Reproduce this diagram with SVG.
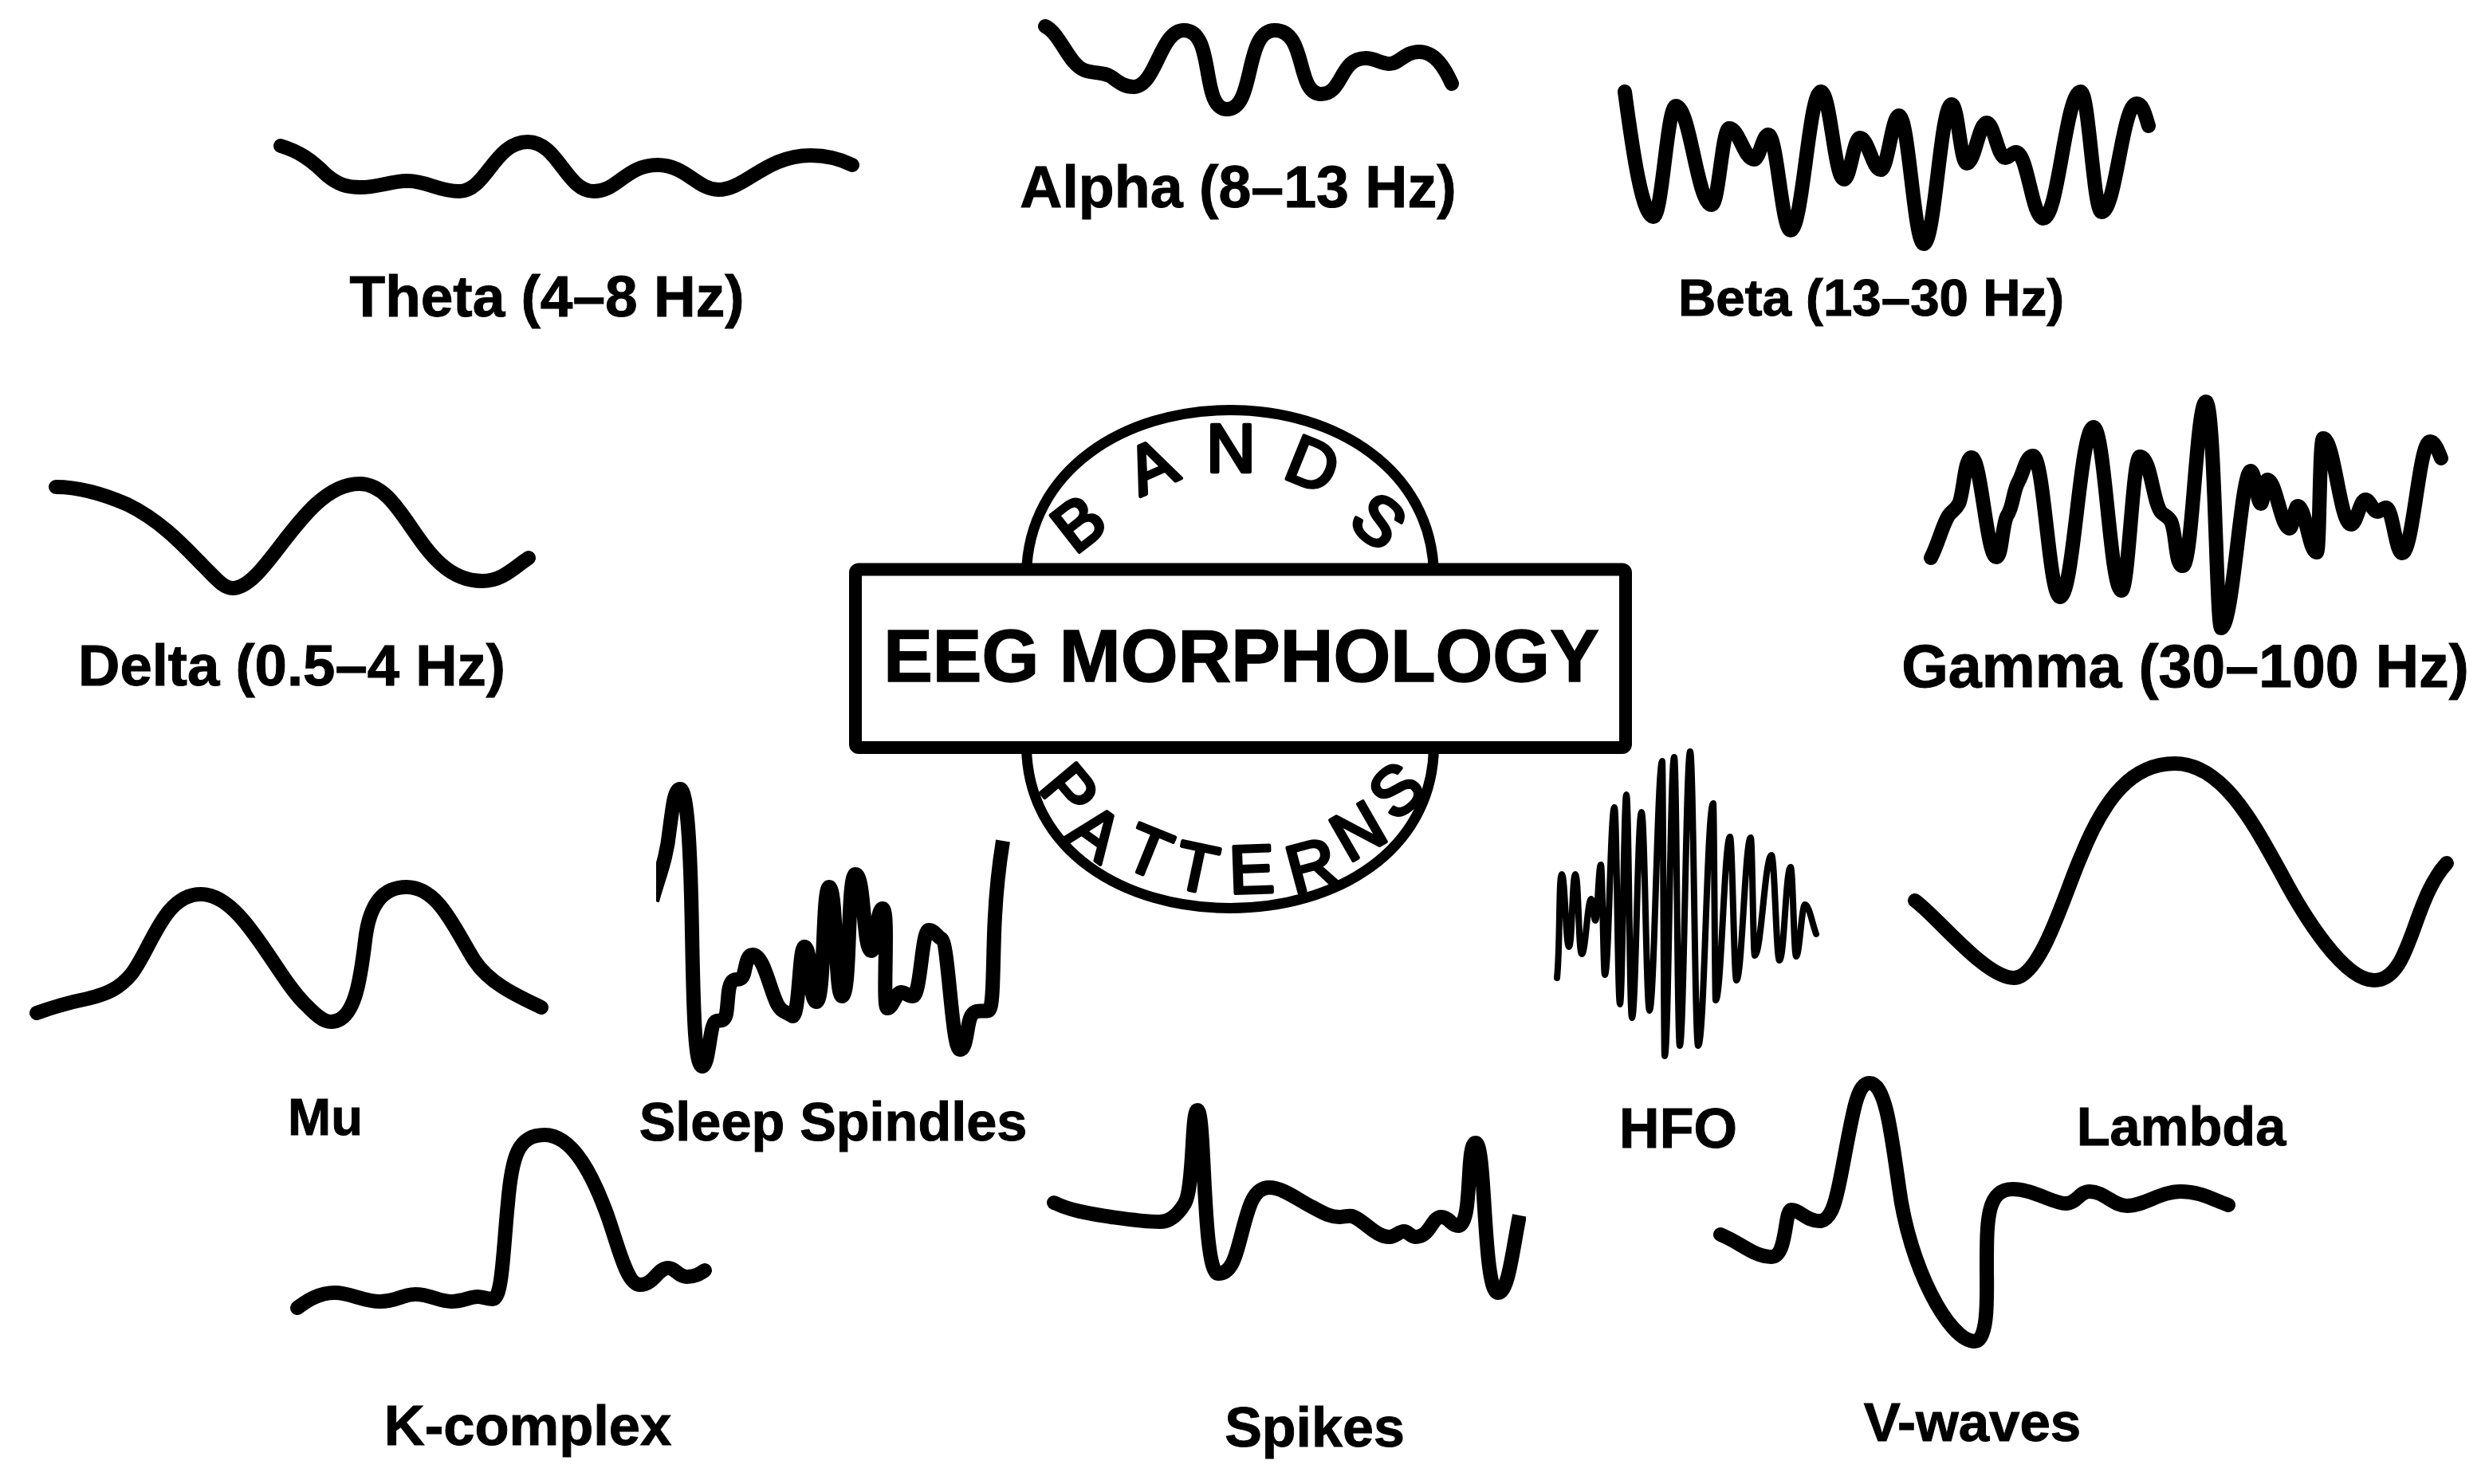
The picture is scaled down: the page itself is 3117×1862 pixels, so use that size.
<svg xmlns="http://www.w3.org/2000/svg" width="3117" height="1862" viewBox="0 0 3117 1862">
<style>
.w{fill:none;stroke:#000;stroke-width:18;stroke-linecap:round;stroke-linejoin:round}
.l{font-family:"Liberation Sans",Arial,sans-serif;font-weight:700;fill:#000;text-anchor:middle;stroke:#000;stroke-width:1}
.c{font-family:"Liberation Sans",Arial,sans-serif;font-size:85px;fill:#000;text-anchor:middle;stroke:#000;stroke-width:4.5;stroke-linejoin:round}
.o{fill:none;stroke:#000;stroke-width:13}
</style>
<defs>
<clipPath id="clipL"><rect x="823" y="950" width="500" height="420"/></clipPath>
<clipPath id="clipR"><rect x="1300" y="1370" width="614" height="300"/></clipPath>
</defs>
<rect width="3117" height="1862" fill="#fff"/>

<g id="theta">
<path class="w" d="M352 183C375 190 390 200 410 220C425 232 435 235 452 235C475 235 490 227 512 227C535 227 550 240 576 240C610 240 620 178 662 178C700 178 710 240 745 240C775 240 785 207 825 207C860 207 875 238 901 238C935 238 960 195 1017 195C1040 195 1055 200 1069 207"/>
<text class="l" x="686" y="397" font-size="73">Theta (4–8 Hz)</text>
</g>
<g id="alpha">
<path class="w" d="M1311 33C1330 42 1340 80 1360 88C1375 93 1385 90 1395 97C1405 105 1412 109 1422 109C1450 109 1455 38 1485 38C1525 38 1505 137 1539 137C1575 137 1560 38 1599 38C1640 38 1625 118 1657 118C1685 118 1680 73 1713 73C1725 73 1732 80 1743 80C1755 80 1762 65 1780 65C1800 65 1812 85 1821 105"/>
<text class="l" x="1553" y="260" font-size="73.5">Alpha (8–13 Hz)</text>
</g>
<g id="beta">
<path class="w" d="M2038 115C2048 190 2060 272 2074 272C2085 272 2091 133 2102 133C2120 133 2129 257 2147 257C2156 257 2160 161 2169 161C2181 161 2188 200 2200 200C2207 200 2211 169 2218 169C2229 169 2235 289 2246 289C2261 289 2269 115 2284 115C2296 115 2301 225 2313 225C2321 225 2325 173 2333 173C2343 173 2349 213 2359 213C2368 213 2373 145 2382 145C2394 145 2401 306 2413 306C2427 306 2434 131 2448 131C2456 131 2459 205 2467 205C2477 205 2482 154 2492 154C2501 154 2506 198 2515 198C2521 198 2523 191 2529 191C2543 191 2549 274 2563 274C2582 274 2591 115 2610 115C2620 115 2626 266 2636 266C2654 266 2662 130 2680 130C2688 130 2691 145 2695 158"/>
<text class="l" x="2347" y="396" font-size="65.5">Beta (13–30 Hz)</text>
</g>
<g id="delta">
<path class="w" d="M70 611C100 611 130 620 160 633C205 655 235 690 255 710C270 725 280 738 292 738C335 738 380 607 451 607C510 607 525 729 605 729C630 729 645 712 663 700"/>
<text class="l" x="366" y="860" font-size="72.5">Delta (0.5–4 Hz)</text>
</g>
<g id="gamma">
<path class="w" d="M2422 700C2432 680 2436 660 2444 647C2449 640 2453 640 2457 632C2463 620 2464 574 2473 574C2485 574 2492 699 2504 699C2511 699 2511 662 2517 648C2526 635 2524 618 2532 604C2538 594 2541 572 2550 572C2564 572 2570 749 2584 749C2601 749 2609 536 2626 536C2640 536 2647 741 2661 741C2670 741 2675 573 2684 573C2698 573 2700 630 2711 643C2716 648 2718 646 2723 654C2730 668 2728 710 2738 710C2750 710 2755 504 2767 504C2778 504 2780 788 2786 788C2801 788 2811 591 2823 591C2829 591 2831 632 2836 632C2839 632 2840 602 2844 602C2855 602 2861 663 2872 663C2876 663 2878 635 2882 635C2892 635 2896 693 2906 693C2910 693 2909 550 2914 550C2928 550 2935 658 2949 658C2956 658 2960 627 2967 627C2973 627 2976 642 2982 642C2986 642 2989 637 2993 637C3001 637 3005 694 3013 694C3027 694 3034 554 3048 554C3054 554 3058 565 3062 575"/>
<text class="l" x="2741" y="862" font-size="75.3">Gamma (30–100 Hz)</text>
</g>
<g id="mu">
<path class="w" d="M46 1271C65 1264 85 1258 110 1253C135 1247 150 1240 165 1222C190 1190 205 1122 252 1122C305 1122 345 1225 385 1262C395 1272 405 1282 415 1282C445 1282 452 1230 458 1180C463 1135 480 1113 510 1113C550 1113 570 1165 595 1205C615 1235 650 1250 679 1264"/>
<text class="l" x="408" y="1424" font-size="65">Mu</text>
</g>
<g id="spindles">
<path class="w" clip-path="url(#clipL)" style="stroke-linecap:butt" d="M818 1130C826 1100 836 1080 840 1040C844 1010 846 990 853 990C862 990 866 1060 868 1170C870 1280 872 1338 881 1338C889 1338 890 1288 897 1282C903 1278 908 1285 911 1272C914 1255 912 1235 920 1230C925 1227 930 1232 933 1222C936 1210 937 1198 944 1198C958 1198 965 1240 975 1260C982 1272 985 1268 994 1275C1003 1275 1002 1188 1009 1188C1019 1188 1014 1257 1024 1257C1035 1257 1031 1113 1040 1113C1050 1113 1047 1250 1056 1250C1068 1250 1062 1097 1073 1097C1085 1097 1082 1193 1093 1193C1100 1193 1099 1140 1107 1140C1116 1140 1106 1265 1113 1265C1120 1265 1124 1245 1130 1245C1136 1245 1138 1250 1145 1250C1155 1250 1156 1167 1165 1167C1172 1167 1175 1175 1181 1178C1190 1185 1194 1317 1204 1317C1214 1317 1212 1280 1220 1272C1226 1266 1232 1270 1240 1268C1247 1266 1245 1200 1248 1150C1250 1110 1254 1080 1258 1055"/>
<text class="l" x="1045" y="1431" font-size="68.4">Sleep Spindles</text>
</g>
<g id="hfo">
<path class="w" style="stroke-width:8" d="M1953 1227C1957 1190 1955 1097 1959 1097C1963 1097 1964 1188 1968 1188C1972 1188 1972 1097 1976 1097C1980 1097 1980 1197 1984 1197C1989 1197 1991 1128 1996 1128C1998 1128 1999 1155 2001 1155C2004 1155 2005 1085 2008 1085C2010 1085 2011 1223 2013 1223C2018 1223 2020 1013 2025 1013C2028 1013 2029 1260 2032 1260C2035 1260 2037 997 2040 997C2043 997 2044 1277 2047 1277C2052 1277 2054 1019 2059 1019C2063 1019 2065 1268 2069 1268C2075 1268 2079 955 2085 955C2086 955 2087 1325 2088 1325C2093 1325 2095 950 2100 950C2103 950 2104 1312 2107 1312C2112 1312 2115 943 2120 943C2124 943 2126 1312 2130 1312C2138 1312 2141 1008 2149 1008C2150 1008 2151 1255 2152 1255C2159 1255 2163 1050 2170 1050C2173 1050 2175 1230 2178 1230C2185 1230 2189 1051 2196 1051C2198 1051 2199 1199 2201 1199C2209 1199 2214 1073 2222 1073C2226 1073 2228 1205 2232 1205C2238 1205 2240 1088 2246 1088C2249 1088 2250 1200 2253 1200C2257 1200 2260 1135 2264 1135C2269 1135 2273 1158 2278 1172"/>
<text class="l" x="2105" y="1440" font-size="70">HFO</text>
</g>
<g id="lambda">
<path class="w" d="M2402 1130C2430 1150 2490 1227 2526 1227C2560 1227 2590 1120 2610 1075C2640 1000 2675 958 2728 958C2790 958 2830 1040 2862 1097C2890 1150 2940 1230 2978 1230C3025 1230 3025 1130 3069 1083"/>
<text class="l" x="2736" y="1437" font-size="68.5">Lambda</text>
</g>
<g id="kcomplex">
<path class="w" d="M373 1641C385 1632 400 1622 420 1622C440 1622 455 1633 477 1633C497 1633 505 1624 521 1624C540 1624 550 1633 566 1633C580 1633 590 1627 599 1627C605 1627 612 1630 618 1630C630 1630 631 1570 637 1510C642 1450 650 1424 683 1424C720 1424 745 1480 760 1520C775 1560 785 1612 803 1612C820 1612 825 1591 838 1591C848 1591 850 1602 862 1602C872 1602 878 1598 884 1594"/>
<text class="l" x="662" y="1813" font-size="70.5">K-complex</text>
</g>
<g id="spikes">
<path class="w" clip-path="url(#clipR)" style="stroke-linecap:butt" d="M1322 1509C1345 1520 1370 1523 1394 1527C1415 1530 1435 1533 1455 1533C1470 1533 1480 1520 1486 1510C1498 1490 1494 1393 1502 1393C1512 1393 1508 1598 1528 1598C1545 1598 1550 1575 1555 1557C1565 1520 1570 1490 1592 1490C1610 1490 1630 1507 1647 1515C1660 1522 1668 1527 1680 1527C1685 1527 1690 1525 1696 1526C1710 1530 1725 1552 1743 1552C1750 1552 1755 1545 1761 1545C1766 1545 1770 1552 1775 1552C1795 1552 1795 1527 1808 1527C1818 1527 1820 1538 1829 1538C1848 1538 1838 1434 1851 1434C1864 1434 1860 1622 1879 1622C1892 1622 1897 1570 1906 1525"/>
<circle cx="1322" cy="1509" r="9"/>
<text class="l" x="1649" y="1815" font-size="70">Spikes</text>
</g>
<g id="vwaves">
<path class="w" d="M2158 1549C2185 1560 2200 1577 2222 1577C2242 1577 2238 1518 2247 1518C2258 1518 2265 1532 2282 1532C2300 1532 2305 1495 2312 1460C2325 1390 2330 1359 2345 1359C2365 1359 2372 1420 2382 1490C2395 1590 2445 1683 2477 1683C2495 1683 2492 1620 2492 1590C2492 1530 2492 1492 2525 1492C2550 1492 2575 1510 2591 1510C2605 1510 2608 1495 2621 1495C2640 1495 2650 1513 2668 1513C2690 1513 2710 1495 2735 1495C2760 1495 2775 1505 2795 1512"/>
<text class="l" x="2474" y="1808" font-size="69">V-waves</text>
</g>

<g id="centre">
<path class="o" d="M1287.5 720C1290 590 1410 514.5 1543 514.5C1676 514.5 1796 590 1798.5 720"/>
<path class="o" d="M1287.5 938C1290 1068 1410 1139.5 1543 1139.5C1676 1139.5 1796 1068 1798.5 938"/>
<rect x="1073" y="714.5" width="966" height="223.5" rx="4" fill="#fff" stroke="#000" stroke-width="16" stroke-linejoin="round"/>
<text class="l" x="1557" y="855" font-size="92.3" style="stroke-width:1.5">EEG MORPHOLOGY</text>
<g id="bands">
<text class="c" transform="translate(1352 656) rotate(-38)" y="30">B</text>
<text class="c" transform="translate(1444 584) rotate(-24)" y="30">A</text>
<text class="c" transform="translate(1544 562)" y="30">N</text>
<text class="c" transform="translate(1647 582) rotate(22)" y="30">D</text>
<text class="c" transform="translate(1730 653) rotate(40)" y="30">S</text>
</g>
<g id="patterns">
<text class="c" transform="translate(1342 992) rotate(50)" y="30">P</text>
<text class="c" transform="translate(1375 1044) rotate(36)" y="30">A</text>
<text class="c" transform="translate(1441 1068) rotate(22)" y="30">T</text>
<text class="c" transform="translate(1501 1088) rotate(12)" y="30">T</text>
<text class="c" transform="translate(1570 1090) rotate(-2)" y="30">E</text>
<text class="c" transform="translate(1645 1085) rotate(-15)" y="30">R</text>
<text class="c" transform="translate(1703 1042) rotate(-30)" y="30">N</text>
<text class="c" transform="translate(1751 991) rotate(-42)" y="30">S</text>
</g>
</g>
</svg>
